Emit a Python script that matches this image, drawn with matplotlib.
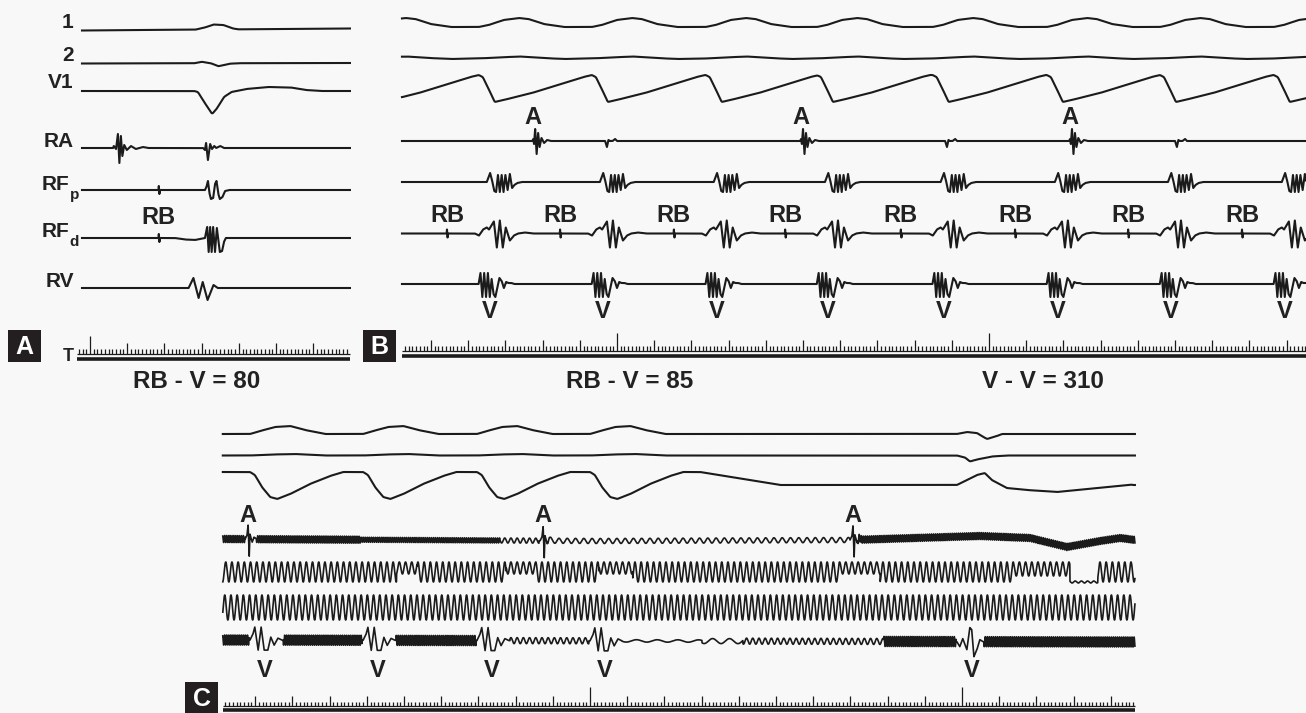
import numpy as np
import matplotlib
matplotlib.use("Agg")
import matplotlib.pyplot as plt
from matplotlib.patches import Rectangle

# ------------------------------------------------------------------ data
# times in ms, deflections in px of tracing (positive = upward)
MS_PER_PX = 2.688           # paper speed of the recordings
MAINS_HZ = 60               # mains interference frequency
BAND_HZ = 180               # very dense interference (looks like a solid band)

# ---- Panel A : single RB-paced beat
A_ATRIAL = [75]
A_RB = [185]
A_V = [265]
A_LEAD1_DT = [18, 43, 66, 93, 118, 133]
A_LEAD1_AMP = [0, 2, 5, 4.5, 1, 0]
A_LEAD2_DT = [15, 35, 60, 80, 110, 135]
A_LEAD2_AMP = [0, 1.5, 0, -3, -0.5, 0]
A_V1_DT = [15, 25, 40, 63, 75, 95, 115, 155, 215, 275, 315, 355]
A_V1_AMP = [0, -1, -10, -23, -18, -6, -1, 2, 4, 3.5, 1, 0]
A_RA_ATR_DT = [-13, -11, -5, 0, 4, 8, 12, 17, 24, 35, 48, 67, 81]
A_RA_ATR_AMP = [0, 2, -1, 14, -15, 12, -8, 3, -2, 2, -1, 1, 0]
A_RA_FAR_DT = [39, 44, 47, 52, 58, 63, 69, 74, 85, 95]
A_RA_FAR_AMP = [0, -2, 5, -12, 4, -1, 2, 0, 2, 0]
A_RFP_DT = [44, 48, 52, 56, 60, 66, 71, 75, 80, 84, 91, 98, 109]
A_RFP_AMP = [0, 3, 9, -3, -9, -8, 6, 9, -4, -9, -7, -1, 0]
A_RFD_DT = [-37, -10, 17, 44, 47, 50, 54, 58, 62, 66, 71, 76, 80, 84, 90, 95, 100]
A_RFD_AMP = [0, -1.5, -2, 0, 6, 11, -14, 11, -14, 11, -14, 10, -2, -14, -13, -4, 0]
A_RV_DT = [0, 13, 27, 38, 51, 67, 78]
A_RV_AMP = [0, 10, -10, 6, -12, 3, 0]
RB_TICK_DT = [-3, -1, 0, 1.5, 3, 5]
RB_TICK_AMP = [0, 0, 4, -4, 0, 0]

# ---- Panel B : RB-V = 85, V-V = 310
B_RB = [-457, -153, 153, 452, 763, 1070, 1374, 1680]
B_RB_V = 85
B_ATRIAL = [-220, 500, 1223]
B_RA_FAR = [-27, 887, 1505]
B_LEAD1_DT = [0, 27, 67, 108, 134, 175, 229]
B_LEAD1_AMP = [0, 2, 7, 9, 8, 3, 0]
B_LEAD2_DT = [0, 50, 110, 170, 230, 290]
B_LEAD2_AMP = [0, 1, 2, 0.5, -0.5, 0]
B_V1_DT = [0, 11, 27, 43, 67, 143, 231, 282, 304]
B_V1_AMP = [0, -2, -14, -27, -25, -18, -8, -2, 0]
B_RA_ATR_DT = [-8, -5, -3, 0, 4, 8, 12, 17, 24, 32, 42]
B_RA_ATR_AMP = [0, 2, -3, 12, -13, 8, -6, 3, -2, 1, 0]
B_RA_FAR_DT = [-5, 0, 4, 8, 15, 22, 27]
B_RA_FAR_AMP = [0, -6, 1, 0, 0, 2, 0]
B_RFP_DT = [22, 27, 31, 36, 42, 47, 52, 57, 62, 67, 72, 78, 84, 90, 96, 104, 116]
B_RFP_AMP = [0, 5, 9, 2, -9, -10, 7, -10, 7, -10, 7, -8, 8, -6, -3, -1, 0]
B_RFD_DT = [-10, 1, 12, 22, 28, 33, 41, 49, 57, 65, 73, 84, 95, 106, 124, 146]
B_RFD_AMP = [0, -2, 4, 6, 4, 7, 12, -14, 13, -14, 6, -7, -2, 0, 1, 0]
B_RV_DT = [0, 5, 10, 15, 20, 25, 30, 35, 40, 45, 50, 56, 62, 68, 74, 80, 88, 96]
B_RV_AMP = [0, 11, -13, 11, -13, 11, -13, 5, -10, -13, -4, 6, 3, -4, 2, 1, 1, 0]

# ---- Panel C : noisy recording
C_V = [-914, -610, -304, 0]
C_V_LATE = [986]
C_ATRIAL = [-919, -126, 707]
C_LEAD1_DT = [0, 27, 67, 108, 148, 202]
C_LEAD1_AMP = [0, 3, 7, 8, 4, 0]
C_LEAD1_LATE_DT = [0, 27, 54, 67, 81, 108, 121]
C_LEAD1_LATE_AMP = [0, 2, 1, -2, -5, -2, 0]
C_LEAD2_DT = [0, 60, 120, 200, 280]
C_LEAD2_AMP = [0, 1, 1.5, 0, 0]
C_LEAD2_LATE_DT = [0, 22, 35, 54, 94, 135]
C_LEAD2_LATE_AMP = [0, -2, -6, -4, -1, 0]
C_V1_DT = [0, 13, 32, 54, 73, 108, 161, 215, 250]
C_V1_AMP = [0, -3, -15, -25, -27, -22, -12, -4, 0]
C_V1_LATE_DT = [0, 27, 54, 75, 94, 134, 188, 269, 350, 470]
C_V1_LATE_AMP = [0, 5, 10, 12, 5, -3, -5, -7, -4, 0.5]
C_V1_BASE_T = [-989, 296, 511, 1465]
C_V1_BASE_Y = [472, 472, 485, 485]
C_RA_SPIKE_DT = [-8, -3, 0, 3, 5, 11, 16, 24]
C_RA_SPIKE_AMP = [0, 4, 14, -17, 5, -3, 2, 0]
C_RA_BASE_T = [-989, 27, 699, 1048, 1183, 1282, 1371, 1425, 1465]
C_RA_BASE_Y = [539, 541, 540, 536, 538, 547, 541, 538, 540]
C_RA_NOISE = [(-989, -927, 3.5, BAND_HZ), (-897, -618, 3.5, BAND_HZ),
              (-618, -242, 2.5, BAND_HZ), (-242, -137, 2.5, MAINS_HZ),
              (-113, 699, 2.5, 45), (720, 1465, 3.5, BAND_HZ)]
C_CH5_EDGES = [-989, -520, -465, -225, -145, 25, 115, 670, 780, 1140, 1290, 1365, 1465]
C_CH5_AMP = [10, 6, 10, 6, 10, 6, 10, 6, 10, 7, 1, 10]
C_CH5_SHIFT = [0, 4, 0, 4, 0, 4, 0, 4, 0, 3, -10, 0]
C_CH6_AMP = 12.5
C_RV_DT = [0, 8, 13, 22, 30, 38, 48, 56, 65, 75, 86]
C_RV_AMP = [0, 6, 13, -10, 13, -10, -10, 3, -5, 2, 0]
C_RV_LATE_DT = [0, 8, 16, 27, 35, 40, 46, 54, 62, 70]
C_RV_LATE_AMP = [0, -5, 3, -8, 14, 12, -15, -8, 2, 0]
C_RV_NOISE = [(-989, -916, 5, BAND_HZ), (-825, -613, 5, BAND_HZ), (-521, -306, 5, BAND_HZ),
              (-215, -3, 3, MAINS_HZ), (86, 301, 1.2, 18), (301, 411, 2.5, 22),
              (411, 790, 3, MAINS_HZ), (790, 984, 5, BAND_HZ), (1059, 1465, 5, BAND_HZ)]

CHANNELS = ["1", "2", "V1", "RA", "RF", "RF", "RV"]
CHANNEL_SUB = ["", "", "", "", "p", "d", ""]
SUMMARY = ["RB - V = 80", "RB - V = 85", "V - V = 310"]

# ------------------------------------------------------------------ style
W, H = 1306, 713
INK = "#1b1b1b"
BG = "#f8f8f8"
plt.rcParams["font.family"] = ["Liberation Sans", "DejaVu Sans"]
BOLD = dict(fontweight="bold", color="#222222")

fig = plt.figure(figsize=(W / 100, H / 100), dpi=100)
fig.patch.set_facecolor(BG)


def panel_axes(x0, x1, y0, y1, xorig):
    ax = fig.add_axes([x0 / W, 1 - y1 / H, (x1 - x0) / W, (y1 - y0) / H])
    ax.set_xlim((x0 - xorig) * MS_PER_PX, (x1 - xorig) * MS_PER_PX)
    ax.set_ylim(y1, y0)
    ax.set_facecolor("none")
    ax.axis("off")
    return ax


def events(t, times, dts, amps):
    y = np.zeros_like(t)
    for t0 in times:
        y += np.interp(t - t0, dts, amps, left=0.0, right=0.0)
    return y


def smooth(y, n):
    k = np.ones(n) / n
    yp = np.pad(y, (n // 2, n - 1 - n // 2), mode="edge")
    return np.convolve(yp, k, mode="valid")


def noise(t, segs):
    y = np.zeros_like(t)
    for a, b, amp, hz in segs:
        m = (t >= a) & (t < b)
        y[m] += amp * np.sin(2 * np.pi * hz * t[m] / 1000.0)
    return y


def draw(ax, t, base, up, lw=1.5):
    ax.plot(t, base - up, color=INK, lw=lw, solid_joinstyle="round")


def ruler(ax, t0, t1, ybase, hmin, hmid, htall, yline):
    ticks = np.arange(int(np.ceil(t0 / 10.0)) * 10, int(t1) + 1, 10)
    hts = np.where(ticks % 1000 == 0, htall, np.where(ticks % 100 == 0, hmid, hmin))
    ax.vlines(ticks, ybase, ybase - hts, color=INK, lw=0.9)
    ax.hlines(ybase, t0, t1, color=INK, lw=0.9)
    ax.hlines(yline, t0, t1, color=INK, lw=2.6)


LBL = 17      # event labels (A, RB, V)

# ------------------------------------------------------------------ panel A
axA = panel_axes(0, 362, 0, 400, 90)
tA = np.arange(-21.5, 699, 0.25)
draw(axA, tA, np.interp(tA, [-21.5, 699], [30.5, 28.5]),
     smooth(events(tA, A_V, A_LEAD1_DT, A_LEAD1_AMP), 24))
draw(axA, tA, np.interp(tA, [-21.5, 699], [63.5, 63]),
     smooth(events(tA, A_V, A_LEAD2_DT, A_LEAD2_AMP), 24))
draw(axA, tA, 91, smooth(events(tA, A_V, A_V1_DT, A_V1_AMP), 24))
draw(axA, tA, 148, events(tA, A_ATRIAL, A_RA_ATR_DT, A_RA_ATR_AMP)
     + events(tA, A_V, A_RA_FAR_DT, A_RA_FAR_AMP))
draw(axA, tA, 190, events(tA, A_RB, RB_TICK_DT, RB_TICK_AMP)
     + events(tA, A_V, A_RFP_DT, A_RFP_AMP))
draw(axA, tA, 238, events(tA, A_RB, RB_TICK_DT, RB_TICK_AMP)
     + events(tA, A_V, A_RFD_DT, A_RFD_AMP))
draw(axA, tA, 288, events(tA, A_V, A_RV_DT, A_RV_AMP))
ruler(axA, -35, 699, 354, 5, 11, 18, 358.5)

lab_x = -44
lab_y = [28.5, 61, 88.5, 147, 190, 237, 287]
for name, sub, y in zip(CHANNELS, CHANNEL_SUB, lab_y):
    if sub:
        axA.text(lab_x - 12, y, name, ha="right", va="baseline", fontsize=15, **BOLD)
        axA.text(lab_x - 11, y + 9, sub, ha="left", va="baseline", fontsize=11, **BOLD)
    else:
        axA.text(lab_x, y, name, ha="right", va="baseline", fontsize=15, **BOLD)
axA.text(-58, 361, "T", ha="center", va="baseline", fontsize=13, **BOLD)
for t in A_RB:
    axA.text(t, 218, "RB", ha="center", va="center", fontsize=LBL, **BOLD)

# ------------------------------------------------------------------ panel B
axB = panel_axes(362, 1306, 0, 400, 617)
tB = np.arange(-578, 1852, 0.25)
B_V = [rb + B_RB_V for rb in B_RB]
B_V_EXT = [B_V[0] - (B_V[1] - B_V[0])] + B_V
draw(axB, tB, 27, smooth(events(tB, B_V_EXT, B_LEAD1_DT, B_LEAD1_AMP), 24))
draw(axB, tB, 58.5, smooth(events(tB, B_V_EXT, B_LEAD2_DT, B_LEAD2_AMP), 24))
draw(axB, tB, 75, smooth(events(tB, B_V_EXT, B_V1_DT, B_V1_AMP), 20))
draw(axB, tB, 141, events(tB, B_ATRIAL, B_RA_ATR_DT, B_RA_ATR_AMP)
     + events(tB, B_RA_FAR, B_RA_FAR_DT, B_RA_FAR_AMP))
draw(axB, tB, 182, events(tB, B_V, B_RFP_DT, B_RFP_AMP))
draw(axB, tB, 233.5, events(tB, B_RB, RB_TICK_DT, RB_TICK_AMP)
     + events(tB, B_V, B_RFD_DT, B_RFD_AMP))
draw(axB, tB, 284, events(tB, B_V, B_RV_DT, B_RV_AMP))
ruler(axB, -578, 1852, 351, 5, 11, 18, 356)
for t in B_ATRIAL:
    axB.text(t - 5, 118, "A", ha="center", va="center", fontsize=LBL, **BOLD)
for t in B_RB:
    axB.text(t, 216, "RB", ha="center", va="center", fontsize=LBL, **BOLD)
for t in B_V:
    axB.text(t + 30, 311, "V", ha="center", va="center", fontsize=LBL, **BOLD)

# ------------------------------------------------------------------ panel C
axC = panel_axes(170, 1306, 400, 713, 590)
tC = np.arange(-987, 1465, 0.25)
draw(axC, tC, 434, smooth(events(tC, C_V, C_LEAD1_DT, C_LEAD1_AMP)
                          + events(tC, C_V_LATE, C_LEAD1_LATE_DT, C_LEAD1_LATE_AMP), 24))
draw(axC, tC, 455.5, smooth(events(tC, C_V, C_LEAD2_DT, C_LEAD2_AMP)
                            + events(tC, C_V_LATE, C_LEAD2_LATE_DT, C_LEAD2_LATE_AMP), 24))
draw(axC, tC, np.interp(tC, C_V1_BASE_T, C_V1_BASE_Y),
     smooth(events(tC, C_V, C_V1_DT, C_V1_AMP)
            + events(tC, C_V_LATE, C_V1_LATE_DT, C_V1_LATE_AMP), 20))
draw(axC, tC, np.interp(tC, C_RA_BASE_T, C_RA_BASE_Y),
     events(tC, C_ATRIAL, C_RA_SPIKE_DT, C_RA_SPIKE_AMP) + noise(tC, C_RA_NOISE), lw=1.2)
seg = np.clip(np.searchsorted(C_CH5_EDGES, tC, side="right") - 1, 0, len(C_CH5_AMP) - 1)
ch5_amp = np.array(C_CH5_AMP, float)[seg]
ch5_shift = np.array(C_CH5_SHIFT, float)[seg]
draw(axC, tC, 572, ch5_shift + ch5_amp * np.sin(2 * np.pi * MAINS_HZ * tC / 1000.0), lw=1.2)
draw(axC, tC, 607.5, C_CH6_AMP * np.sin(2 * np.pi * MAINS_HZ * tC / 1000.0 + 1.0), lw=1.2)
draw(axC, tC, np.interp(tC, [-987, 1465], [640, 642]),
     events(tC, C_V, C_RV_DT, C_RV_AMP) + events(tC, C_V_LATE, C_RV_LATE_DT, C_RV_LATE_AMP)
     + noise(tC, C_RV_NOISE), lw=1.2)
ruler(axC, -987, 1465, 706, 4, 10, 19, 709.5)
for t in C_ATRIAL:
    axC.text(t, 515, "A", ha="center", va="center", fontsize=LBL, **BOLD)
for t in C_V + C_V_LATE:
    axC.text(t + 40, 670, "V", ha="center", va="center", fontsize=LBL, **BOLD)

# ------------------------------------------------------------------ overlay
ov = fig.add_axes([0, 0, 1, 1])
ov.set_xlim(0, W)
ov.set_ylim(H, 0)
ov.set_facecolor("none")
ov.axis("off")
for letter, (bx, by) in zip("ABC", [(8, 330), (363, 330), (185, 682)]):
    ov.add_patch(Rectangle((bx, by), 33, 32, color="#231f20", lw=0))
    ov.text(bx + 16.5, by + 16.5, letter, ha="center", va="center",
            fontsize=18, fontweight="bold", color="white")
for txt, cx in zip(SUMMARY, [197, 630, 1043]):
    ov.text(cx, 381, txt, ha="center", va="center", fontsize=17.5, **BOLD)

fig.savefig("out.png", dpi=100, facecolor=BG)
